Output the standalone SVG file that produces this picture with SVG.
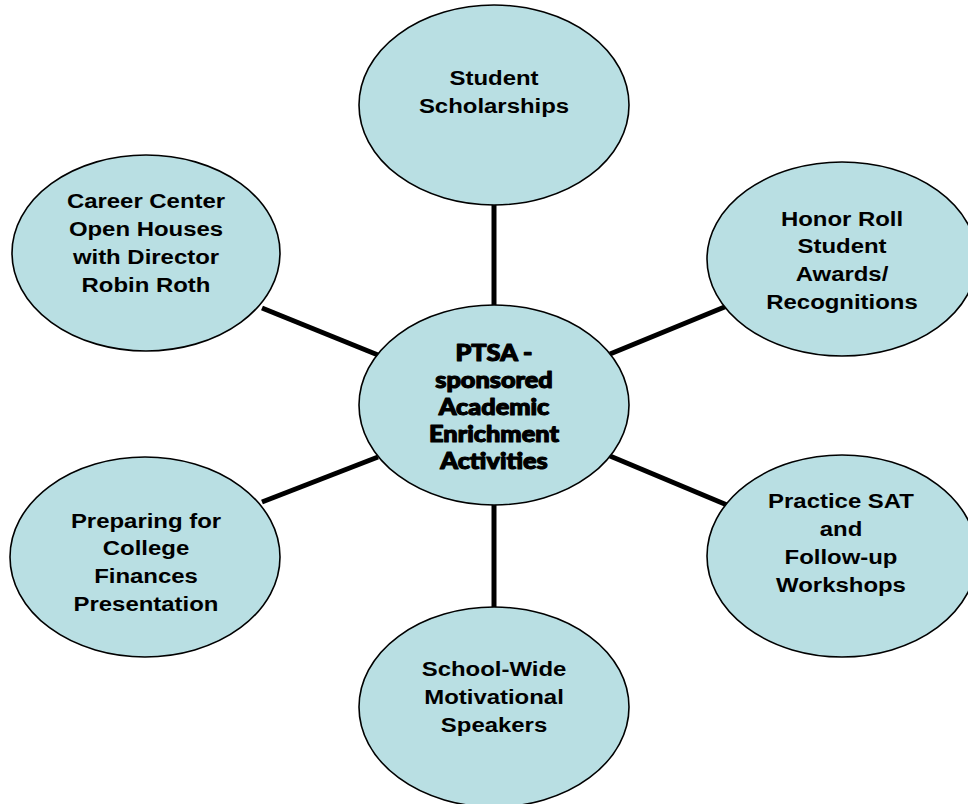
<svg xmlns="http://www.w3.org/2000/svg" width="968" height="804" viewBox="0 0 968 804">
<style>
.n{fill:#b9dfe3;stroke:#000;stroke-width:1.6}
.t{font-family:"Liberation Sans",Arial,sans-serif;font-weight:bold;font-size:21px;fill:#000;text-anchor:middle}
.c{font-family:Lato,"Open Sans",sans-serif;font-weight:900;font-size:22px;fill:#000;text-anchor:middle;stroke:#000;stroke-width:1.1;stroke-linejoin:round}
.e{stroke:#000;stroke-width:5;fill:none}
</style>
<rect width="968" height="804" fill="#fff"/>
<g id="connectors">
<line class="e" x1="494" y1="200" x2="494" y2="310"/>
<line class="e" x1="494" y1="500" x2="494" y2="612"/>
<line class="e" x1="262" y1="308" x2="378" y2="355"/>
<line class="e" x1="610" y1="354" x2="727" y2="306"/>
<line class="e" x1="262" y1="502" x2="378" y2="457"/>
<line class="e" x1="610" y1="456" x2="727" y2="505"/>
</g>
<g id="center">
<ellipse class="n" cx="494" cy="405" rx="135" ry="100"/>
<text class="c" transform="translate(494 0) scale(1.15 1)"><tspan x="0" y="361">PTSA -</tspan><tspan x="0" y="388">sponsored</tspan><tspan x="0" y="415">Academic</tspan><tspan x="0" y="442">Enrichment</tspan><tspan x="0" y="469">Activities</tspan></text>
</g>
<g id="scholarships">
<ellipse class="n" cx="494" cy="105" rx="135" ry="100"/>
<text class="t" transform="translate(494 0) scale(1.14 1)"><tspan x="0" y="85">Student</tspan><tspan x="0" y="113">Scholarships</tspan></text>
</g>
<g id="career">
<ellipse class="n" cx="146" cy="253" rx="134" ry="98"/>
<text class="t" transform="translate(146 0) scale(1.14 1)"><tspan x="0" y="208">Career Center</tspan><tspan x="0" y="236">Open Houses</tspan><tspan x="0" y="264">with Director</tspan><tspan x="0" y="292">Robin Roth</tspan></text>
</g>
<g id="honor">
<ellipse class="n" cx="842" cy="259" rx="135" ry="97"/>
<text class="t" transform="translate(842 0) scale(1.14 1)"><tspan x="0" y="226">Honor Roll</tspan><tspan x="0" y="253">Student</tspan><tspan x="0" y="281">Awards/</tspan><tspan x="0" y="309">Recognitions</tspan></text>
</g>
<g id="preparing">
<ellipse class="n" cx="145" cy="557" rx="135" ry="100"/>
<text class="t" transform="translate(146 0) scale(1.14 1)"><tspan x="0" y="528">Preparing for</tspan><tspan x="0" y="555">College</tspan><tspan x="0" y="583">Finances</tspan><tspan x="0" y="611">Presentation</tspan></text>
</g>
<g id="practice">
<ellipse class="n" cx="842" cy="556" rx="135" ry="101"/>
<text class="t" transform="translate(841 0) scale(1.14 1)"><tspan x="0" y="508">Practice SAT</tspan><tspan x="0" y="536">and</tspan><tspan x="0" y="564">Follow-up</tspan><tspan x="0" y="592">Workshops</tspan></text>
</g>
<g id="speakers">
<ellipse class="n" cx="494" cy="707" rx="135" ry="100"/>
<text class="t" transform="translate(494 0) scale(1.14 1)"><tspan x="0" y="676">School-Wide</tspan><tspan x="0" y="704">Motivational</tspan><tspan x="0" y="732">Speakers</tspan></text>
</g>
</svg>
